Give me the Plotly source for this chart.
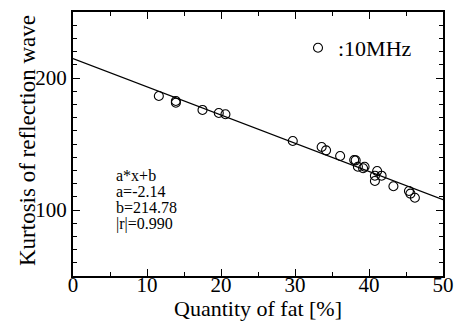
import plotly.graph_objects as go

# Data
fat_pct = [11.6, 13.9, 13.9, 17.5, 19.7, 20.6, 29.7, 33.6, 34.2, 36.1, 38.0, 38.2,
           38.5, 39.2, 39.4, 40.8, 40.8, 41.1, 41.7, 43.3, 45.4, 45.6, 46.2]
kurtosis = [186.4, 182.6, 181.3, 175.8, 173.5, 172.5, 152.3, 147.7, 145.2, 140.9, 137.9, 137.6,
            132.8, 131.6, 132.8, 126.0, 122.0, 129.5, 126.0, 118.0, 114.4, 112.4, 109.3]
fit_a = -2.14
fit_b = 214.78
fit_x = [0, 50]
fit_y = [fit_a * x + fit_b for x in fit_x]
stats_lines = ["a*x+b", "a=-2.14", "b=214.78", "|r|=0.990"]

FONT = "Liberation Serif, Times New Roman, serif"

fig = go.Figure()
fig.add_trace(go.Scatter(x=fit_x, y=fit_y, mode="lines", line=dict(color="black", width=1.2),
                         showlegend=False, hoverinfo="skip"))
fig.add_trace(go.Scatter(x=fat_pct, y=kurtosis, mode="markers", name=":10MHz",
                         marker=dict(symbol="circle-open", size=9, color="black",
                                     line=dict(width=1.1, color="black"))))

axis_common = dict(showline=True, linecolor="black", linewidth=2, mirror="allticks",
                   ticks="inside", ticklen=7, tickwidth=1.3, tickcolor="black",
                   showgrid=False, zeroline=False,
                   tickfont=dict(family=FONT, size=21, color="black"))

fig.update_xaxes(range=[0, 50], dtick=10, tick0=0, ticklabelstandoff=-11,
                 minor=dict(dtick=5, ticks="inside", ticklen=4, tickcolor="black", tickwidth=1.3),
                 **axis_common)
fig.update_yaxes(range=[50, 250], dtick=100, tick0=0,
                 minor=dict(dtick=10, ticks="inside", ticklen=4, tickcolor="black", tickwidth=1.3),
                 **axis_common)

fig.add_annotation(text="Quantity of fat [%]", xref="paper", yref="paper", x=0.5, y=-(323 - 276) / 264,
                   xanchor="center", yanchor="bottom", showarrow=False,
                   font=dict(family=FONT, size=22, color="black"))
fig.add_annotation(text="Kurtosis of reflection wave", xref="paper", yref="paper", x=-(73 - 27) / 370,
                   y=(276 - 141) / 264,
                   xanchor="center", yanchor="middle", textangle=-90, showarrow=False,
                   font=dict(family=FONT, size=23, color="black"))
stats_baselines = [181, 197, 213.5, 230]
for line_text, base in zip(stats_lines, stats_baselines):
    fig.add_annotation(text=line_text, xref="paper", yref="paper", x=(114 - 73) / 370,
                       y=(276 - (base - 6)) / 264,
                       xanchor="left", yanchor="middle", align="left", showarrow=False,
                       font=dict(family=FONT, size=16, color="black"))

fig.update_layout(width=454, height=323, margin=dict(l=73, r=11, t=12, b=47, autoexpand=False),
                  plot_bgcolor="white",
                  legend=dict(x=(298 - 73) / 370, y=(276 - 48) / 264, yanchor="middle", xanchor="left",
                              bgcolor="rgba(0,0,0,0)",
                              font=dict(family=FONT, size=22, color="black")))

fig.write_html("out.html", config={"displayModeBar": False},
               post_script="document.body.style.margin='0';document.body.style.padding='0';"
                           "document.body.style.overflow='hidden';")
